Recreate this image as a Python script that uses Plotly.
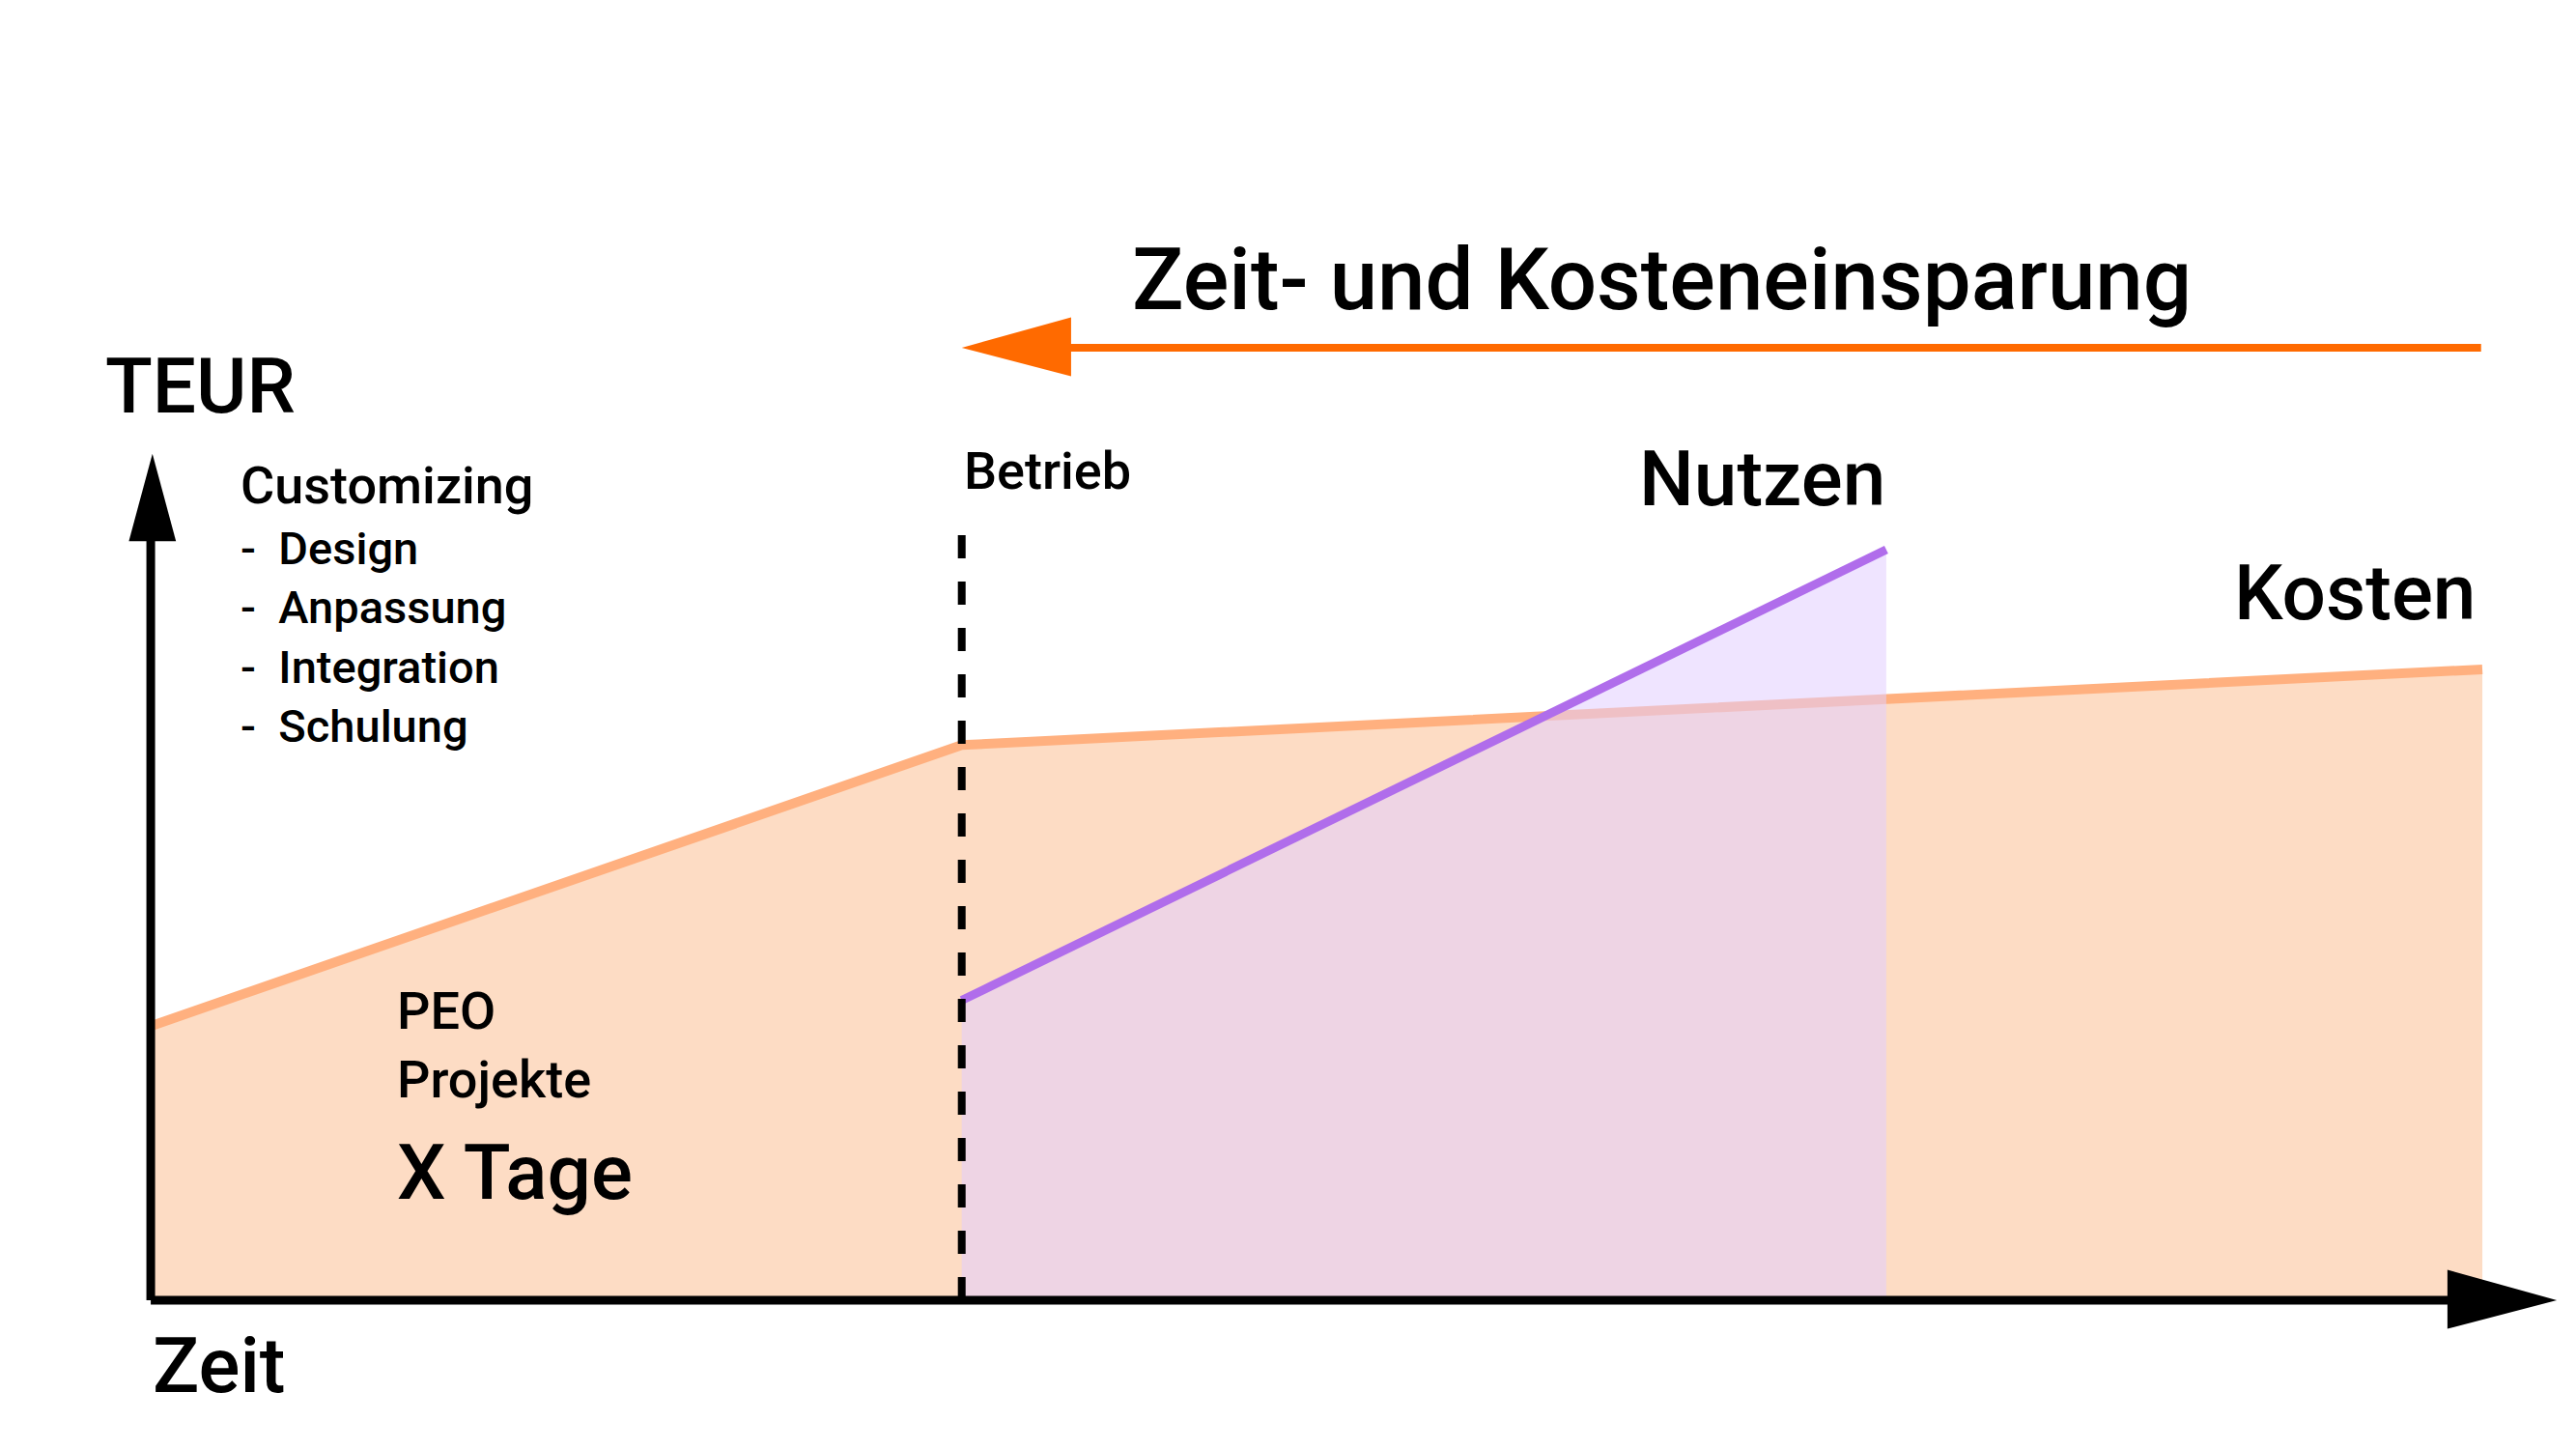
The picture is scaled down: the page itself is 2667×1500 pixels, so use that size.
import plotly.graph_objects as go

# Data (Zeit units, TEUR units)
kosten_zeit = [0, 10, 28.75]
kosten_teur = [36.2, 73.3, 83.3]
nutzen_zeit = [10, 21.4]
nutzen_teur = [39.6, 99.1]
betrieb_zeit = 10
liste = ["-  Design", "-  Anpassung", "-  Integration", "-  Schulung"]

S = 2667 / 1531
X0, XU, Y0, YU = 85, 48.2, 773, 4.5
def dx(px): return (px - X0) / XU
def dy(py): return (Y0 - py) / YU

fig = go.Figure()
fig.add_trace(go.Scatter(x=kosten_zeit + [kosten_zeit[-1], 0], y=kosten_teur + [0, 0],
                         fill="toself", fillcolor="rgba(253,214,186,0.85)", line=dict(width=0),
                         mode="lines", hoverinfo="skip"))
fig.add_trace(go.Scatter(x=kosten_zeit, y=kosten_teur, mode="lines",
                         line=dict(color="#FFB07F", width=10), hoverinfo="skip"))
fig.add_trace(go.Scatter(x=nutzen_zeit + [nutzen_zeit[-1], nutzen_zeit[0]], y=nutzen_teur + [0, 0],
                         fill="toself", fillcolor="rgba(225,205,255,0.55)", line=dict(width=0),
                         mode="lines", hoverinfo="skip"))
fig.add_trace(go.Scatter(x=nutzen_zeit, y=nutzen_teur, mode="lines",
                         line=dict(color="#B06DEB", width=9), hoverinfo="skip"))

shapes = []
def tri(pts, color):
    p = "M " + " L ".join(f"{dx(a)},{dy(b)}" for a, b in pts) + " Z"
    shapes.append(dict(type="path", path=p, fillcolor=color, line=dict(width=0)))
def ln(x0, y0, x1, y1, color, w, dash="solid"):
    shapes.append(dict(type="line", x0=dx(x0), y0=dy(y0), x1=dx(x1), y1=dy(y1),
                       line=dict(color=color, width=w, dash=dash)))

ln(567, 773, 567, 315, "black", 8, "dash")
ln(85, 773, 85, 315, "black", 9)
tri([(72, 322), (86, 270), (100, 322)], "black")
ln(85, 773, 1455, 773, "black", 9)
tri([(1450, 755), (1515, 773), (1450, 790)], "black")
ln(1470, 207, 625, 207, "#FF6A00", 8)
tri([(632, 189), (567, 207), (632, 224)], "#FF6A00")
fig.update_layout(shapes=shapes)

F = "Roboto"
def txt(px, py, s, size, anchor="left", weight=500):
    fig.add_annotation(x=dx(px), y=dy(py), text=s, showarrow=False, xanchor=anchor, yanchor="middle",
                       font=dict(family=F, size=size * S, color="black", weight=weight))

txt(667, 167, "Zeit- und Kosteneinsparung", 51)
txt(57, 230, "TEUR", 46)
txt(137, 289, "Customizing", 31)
for i, s in enumerate(liste):
    txt(137, 326 + i * 35.3, s, 27)
txt(567, 280, "Betrieb", 31)
txt(1117, 285, "Nutzen", 46, "right")
txt(1468, 353, "Kosten", 46, "right")
txt(230, 601, "PEO", 31)
txt(230, 642, "Projekte", 31)
txt(230, 697, "X Tage", 46)
txt(85, 812, "Zeit", 46)

fig.update_xaxes(range=[dx(0), dx(1531)], visible=False)
fig.update_yaxes(range=[dy(866), dy(5)], visible=False)
fig.update_layout(width=2667, height=1500, margin=dict(l=0, r=0, t=0, b=0),
                  plot_bgcolor="white", paper_bgcolor="white", showlegend=False)
fig.write_html("out.html")
